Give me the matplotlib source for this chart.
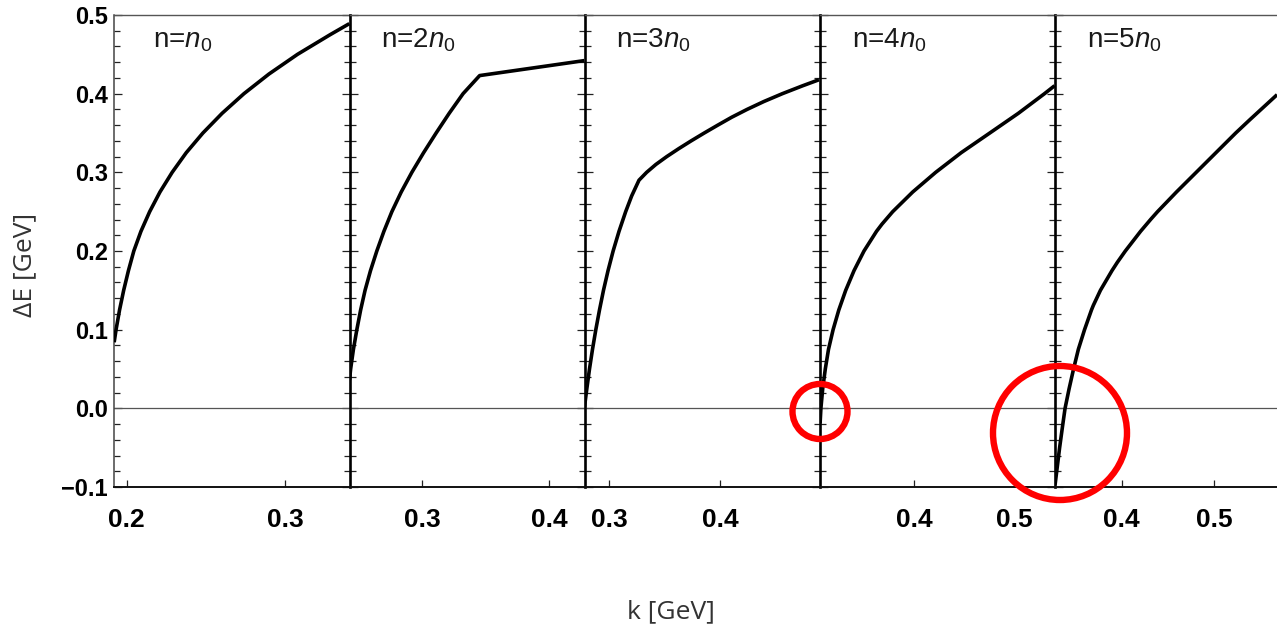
import matplotlib
matplotlib.use("Agg")
import matplotlib.pyplot as plt
from matplotlib import font_manager as fm
from matplotlib.patches import Ellipse
from matplotlib.ticker import FixedLocator, MultipleLocator, FuncFormatter

# ---------------- data ----------------
panel_labels = [r"n=$n_0$", r"n=2$n_0$", r"n=3$n_0$", r"n=4$n_0$", r"n=5$n_0$"]

k1 = [0.1922, 0.1934, 0.1956, 0.1982, 0.2012, 0.2046, 0.2091, 0.2146, 0.2211,
      0.2288, 0.2377, 0.2482, 0.2603, 0.2741, 0.2899, 0.3079, 0.3285, 0.3406]
dE1 = [0.084, 0.100, 0.125, 0.150, 0.175, 0.200, 0.225, 0.250, 0.275,
       0.300, 0.325, 0.350, 0.375, 0.400, 0.425, 0.450, 0.475, 0.489]

k2 = [0.2423, 0.2432, 0.2454, 0.2481, 0.2511, 0.2546, 0.2589, 0.2639, 0.2695,
      0.2758, 0.2832, 0.2916, 0.3009, 0.3108, 0.3211, 0.3321, 0.3452, 0.4279]
dE2 = [0.036, 0.050, 0.075, 0.100, 0.125, 0.150, 0.175, 0.200, 0.225,
       0.250, 0.275, 0.300, 0.325, 0.350, 0.375, 0.400, 0.423, 0.442]

k3 = [0.2779, 0.2800, 0.2824, 0.2851, 0.2881, 0.2914, 0.2950, 0.2991, 0.3037,
      0.3090, 0.3150, 0.3204, 0.3270, 0.3339, 0.3422, 0.3520, 0.3627, 0.3740,
      0.3858, 0.3980, 0.4105, 0.4244, 0.4395, 0.4562, 0.4744, 0.4892]
dE3 = [0.002, 0.025, 0.050, 0.075, 0.100, 0.125, 0.150, 0.175, 0.200,
       0.225, 0.250, 0.270, 0.290, 0.300, 0.310, 0.320, 0.330, 0.340,
       0.350, 0.360, 0.370, 0.380, 0.390, 0.400, 0.410, 0.4177]

k4 = [0.3058, 0.3066, 0.3084, 0.3110, 0.3142, 0.3188, 0.3245, 0.3314, 0.3397,
      0.3497, 0.3622, 0.3677, 0.3784, 0.3984, 0.4214, 0.4469, 0.4755, 0.5040,
      0.5302, 0.5403]
dE4 = [-0.019, 0.000, 0.025, 0.050, 0.075, 0.100, 0.125, 0.150, 0.175,
       0.200, 0.225, 0.2342, 0.250, 0.275, 0.300, 0.325, 0.350, 0.375,
       0.400, 0.4101]

k5 = [0.3278, 0.3327, 0.3356, 0.3386, 0.3430, 0.3478, 0.3530, 0.3597, 0.3672,
      0.3692, 0.3769, 0.3894, 0.3953, 0.4039, 0.4204, 0.4316, 0.4388, 0.4593,
      0.4807, 0.5021, 0.5235, 0.5390, 0.5683]
dE5 = [-0.097, -0.050, -0.025, 0.000, 0.025, 0.050, 0.075, 0.100, 0.125,
       0.1308, 0.150, 0.175, 0.1857, 0.200, 0.225, 0.2405, 0.250, 0.275,
       0.300, 0.325, 0.350, 0.3671, 0.3987]

ks = [k1, k2, k3, k4, k5]
dEs = [dE1, dE2, dE3, dE4, dE5]

xticks = [[0.2, 0.3], [0.3, 0.4], [0.3, 0.4], [0.4, 0.5], [0.4, 0.5]]
yticks = [-0.1, 0.0, 0.1, 0.2, 0.3, 0.4, 0.5]

# ---------------- layout ----------------
W, H = 1277, 628
names = {f.name for f in fm.fontManager.ttflist}
base = "Liberation Sans" if "Liberation Sans" in names else "DejaVu Sans"
xfont = "Liberation Sans Narrow" if "Liberation Sans Narrow" in names else base
xsize = 22 if xfont == "Liberation Sans Narrow" else 19

plt.rcParams["font.family"] = [base, "DejaVu Sans"]
plt.rcParams["mathtext.fontset"] = "custom"
plt.rcParams["mathtext.rm"] = base
plt.rcParams["mathtext.it"] = base + ":italic"
plt.rcParams["axes.unicode_minus"] = True

fig = plt.figure(figsize=(W / 100, H / 100), dpi=100)

lefts = [114, 349.5, 584.5, 820, 1055]
widths = [235.5, 235, 235.5, 235, 235]
xlims = [(0.1921, 0.3407), (0.2423, 0.4281), (0.2779, 0.4901),
         (0.3057, 0.5407), (0.3277, 0.5823)]
top_px, bot_px = 15, 487
b = (H - bot_px) / H
h = (bot_px - top_px) / H

def yfmt(v, pos):
    s = f"{v:.1f}"
    return s.replace("-", "\u2212")

for i in range(5):
    ax = fig.add_axes([lefts[i] / W, b, widths[i] / W, h])
    ax.plot(ks[i], dEs[i], color="black", lw=2.6, solid_capstyle="butt",
            solid_joinstyle="round", zorder=3)
    ax.axhline(0.0, color="#555555", lw=0.9, zorder=2)
    ax.set_xlim(*xlims[i])
    ax.set_ylim(-0.1, 0.5)

    ax.xaxis.set_major_locator(FixedLocator(xticks[i]))
    ax.xaxis.set_major_formatter(FuncFormatter(lambda v, p: f"{v:.1f}"))
    ax.yaxis.set_major_locator(FixedLocator(yticks))
    ax.yaxis.set_minor_locator(MultipleLocator(0.02))
    ax.yaxis.set_major_formatter(FuncFormatter(yfmt))

    ax.tick_params(axis="y", which="both", direction="in", left=True, right=True,
                   color="#222222", width=0.9)
    ax.tick_params(axis="y", which="major", length=6)
    ax.tick_params(axis="y", which="minor", length=4)
    ax.tick_params(axis="x", which="major", direction="in", length=5, width=0.9,
                   color="#222222", top=False, pad=15)
    for lab in ax.get_xticklabels():
        lab.set_fontfamily([xfont, "DejaVu Sans"])
        lab.set_fontsize(xsize)
        lab.set_fontweight("bold")
    if i == 0:
        ax.tick_params(axis="y", labelleft=True, pad=4.5)
        for lab in ax.get_yticklabels():
            lab.set_fontsize(17)
            lab.set_fontweight("bold")
    else:
        ax.tick_params(axis="y", labelleft=False)

    ax.spines["top"].set_color("#555555")
    ax.spines["top"].set_linewidth(1.0)
    ax.spines["bottom"].set_color("#111111")
    ax.spines["bottom"].set_linewidth(1.4)
    ax.spines["right"].set_visible(False)
    if i == 0:
        ax.spines["left"].set_color("#444444")
        ax.spines["left"].set_linewidth(1.1)
    else:
        ax.spines["left"].set_color("black")
        ax.spines["left"].set_linewidth(1.9)
    ax.set_zorder(1)

    ax.text(69 / widths[i], 1 - (47 - top_px) / (bot_px - top_px), panel_labels[i],
            transform=ax.transAxes, ha="center", va="baseline", fontsize=20,
            color="#1a1a1a")

# axis labels
fig.text(25 / W, 1 - 265 / H, "\u0394E [GeV]", rotation=90, ha="center", va="center",
         fontsize=19, color="#333333", family=["Open Sans", "DejaVu Sans"])
fig.text(671 / W, 1 - 612 / H, "k [GeV]", ha="center", va="center",
         fontsize=19, color="#333333", family=["Open Sans", "DejaVu Sans"])

# red highlight circles (annotation overlay)
for cx, cy, r in [(820, 411.5, 27.5), (1060, 433, 67)]:
    fig.add_artist(Ellipse((cx / W, 1 - cy / H), 2 * r / W, 2 * r / H,
                           transform=fig.transFigure, fill=False,
                           edgecolor="#ff0000", lw=4.6, zorder=10))

fig.savefig("out.png", dpi=100)
